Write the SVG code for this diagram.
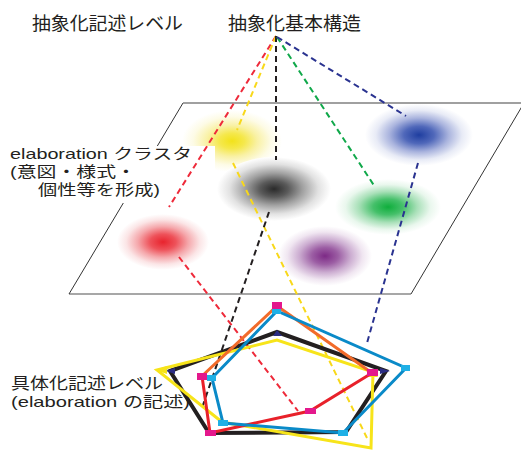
<svg xmlns="http://www.w3.org/2000/svg" width="521" height="450" viewBox="0 0 521 450">
<style>
.t{font-family:"Noto Sans CJK JP","Liberation Sans",sans-serif;fill:#231f20}
.m{font-family:"Liberation Sans","Noto Sans CJK JP",sans-serif;fill:#231f20}
.d{fill:none;stroke-width:2;stroke-dasharray:6 4}
.pl{fill:none;stroke-linejoin:miter}
.sq{fill:#e4188c}
.cx{fill:#1fb0e6}
.nv{fill:#2b2d84}
.yl{fill:#f7e41a}
</style>
<defs>
<radialGradient id="gY"><stop offset="0" stop-color="#f2e21a"/><stop offset="0.25" stop-color="#f5e84c"/><stop offset="0.5" stop-color="#f9f1a4"/><stop offset="0.78" stop-color="#fdfbe6"/><stop offset="1" stop-color="#fff"/></radialGradient>
<radialGradient id="gK"><stop offset="0" stop-color="#2a2a2a"/><stop offset="0.25" stop-color="#5a5a5a"/><stop offset="0.5" stop-color="#a0a0a0"/><stop offset="0.78" stop-color="#e2e2e2"/><stop offset="1" stop-color="#fff"/></radialGradient>
<radialGradient id="gR"><stop offset="0" stop-color="#e8232d"/><stop offset="0.28" stop-color="#ee525a"/><stop offset="0.55" stop-color="#f5a8ac"/><stop offset="0.8" stop-color="#fbe5e6"/><stop offset="1" stop-color="#fff"/></radialGradient>
<radialGradient id="gG"><stop offset="0" stop-color="#0fae3c"/><stop offset="0.28" stop-color="#45c06a"/><stop offset="0.55" stop-color="#a8e0b8"/><stop offset="0.8" stop-color="#e9f7ed"/><stop offset="1" stop-color="#fff"/></radialGradient>
<radialGradient id="gB"><stop offset="0" stop-color="#1f3ea0"/><stop offset="0.28" stop-color="#5068ba"/><stop offset="0.55" stop-color="#aab4de"/><stop offset="0.8" stop-color="#e8ebf6"/><stop offset="1" stop-color="#fff"/></radialGradient>
<radialGradient id="gP"><stop offset="0" stop-color="#7d2a86"/><stop offset="0.28" stop-color="#9c5ea4"/><stop offset="0.55" stop-color="#ccadd1"/><stop offset="0.8" stop-color="#f0e6f1"/><stop offset="1" stop-color="#fff"/></radialGradient>
</defs>
<rect width="521" height="450" fill="#fff"/>

<g id="plane">
<line x1="183" y1="103" x2="521" y2="103" stroke="#9a9a9a" stroke-width="1.6"/>
<line x1="411" y1="294" x2="69" y2="294" stroke="#8a8a8a" stroke-width="1.6"/>
<line x1="183" y1="103" x2="69" y2="294" stroke="#333" stroke-width="1"/>
<line x1="524" y1="103" x2="411" y2="294" stroke="#333" stroke-width="1"/>
</g>

<g id="cluster-yellow"><ellipse cx="232" cy="141" rx="50" ry="31" fill="url(#gY)"/></g>
<g id="cluster-blue"><ellipse cx="419" cy="135" rx="54" ry="31" fill="url(#gB)"/></g>
<g id="cluster-gray"><ellipse cx="274" cy="189" rx="57" ry="32" fill="url(#gK)"/></g>
<g id="cluster-green"><ellipse cx="388" cy="207" rx="53" ry="28" fill="url(#gG)"/></g>
<g id="cluster-red"><ellipse cx="163" cy="242" rx="46" ry="28" fill="url(#gR)"/></g>
<g id="cluster-purple"><ellipse cx="325" cy="256" rx="47" ry="30" fill="url(#gP)"/></g>
<line x1="183" y1="103" x2="521" y2="103" stroke="#9a9a9a" stroke-width="1.6"/>

<g id="label-top-left"><text class="t" x="32" y="30" font-size="18" textLength="151" lengthAdjust="spacingAndGlyphs">抽象化記述レベル</text></g>
<g id="label-top"><text class="t" x="228" y="30" font-size="18" textLength="133" lengthAdjust="spacingAndGlyphs">抽象化基本構造</text></g>

<g id="label-cluster">
<rect x="5" y="146" width="210" height="25" fill="#fff"/>
<rect x="5" y="171" width="160" height="32" fill="#fff"/>
<text class="m" x="10" y="159" font-size="15" textLength="182" lengthAdjust="spacingAndGlyphs">elaboration クラスタ</text>
<text class="m" x="10" y="177" font-size="15" textLength="126" lengthAdjust="spacingAndGlyphs">(意図・様式・</text>
<text class="m" x="38" y="195" font-size="15" textLength="122" lengthAdjust="spacingAndGlyphs">個性等を形成)</text>
</g>

<g id="connectors">
<line class="d" x1="276" y1="36" x2="169" y2="207" stroke="#ee2a3a"/>
<line class="d" x1="179" y1="257" x2="298" y2="411" stroke="#ee2a3a"/>
<line class="d" x1="276" y1="36" x2="237" y2="130" stroke="#f8d81a"/>
<line class="d" x1="233" y1="163" x2="367" y2="438" stroke="#f8d81a"/>
<line class="d" x1="276" y1="36" x2="276" y2="160" stroke="#231f20"/>
<line class="d" x1="269" y1="212" x2="202" y2="408" stroke="#231f20"/>
<line class="d" x1="277" y1="37" x2="375" y2="187" stroke="#10a84a"/>
<line class="d" x1="277" y1="37" x2="406" y2="116" stroke="#2a3390"/>
<line class="d" x1="418" y1="163" x2="367" y2="343" stroke="#2a3390"/>
</g>

<g id="poly-black">
<polygon class="pl" points="170,371 277,332 386,371 346,432 209,433" stroke="#231f20" stroke-width="4"/>
<polygon class="nv" points="166,371 175,368 175,374"/>
<polygon class="nv" points="277,330 273,336 282,336"/>
<polygon class="nv" points="390,371 380,368 380,374"/>
</g>

<g id="poly-yellow">
<polygon class="pl" points="157,370 277,340 373,372 371,448 222,422" stroke="#f7e41a" stroke-width="3"/>
<polygon class="yl" points="155,370 167,366 167,374"/>
<polygon class="yl" points="373,370 368,377 378,377"/>
</g>

<g id="poly-red">
<polyline class="pl" points="202,376 277,306 372,373" stroke="#f26b2a" stroke-width="3"/>
<polyline class="pl" points="372,373 310,411 210,433 202,376" stroke="#e8212a" stroke-width="3"/>
</g>

<g id="poly-blue">
<polygon class="pl" points="212,378 277,311 406,368 343,433 223,423" stroke="#0a8ac8" stroke-width="3"/>
<rect class="cx" x="207" y="375" width="9" height="6"/>
<rect class="cx" x="272" y="308" width="9" height="6"/>
<rect class="cx" x="401" y="365" width="9" height="6"/>
<rect class="cx" x="338" y="430" width="10" height="6"/>
<rect class="cx" x="218" y="420" width="10" height="6"/>
</g>

<g id="markers-red">
<rect class="sq" x="197" y="373" width="10" height="7"/>
<rect class="sq" x="272" y="302" width="10" height="7"/>
<rect class="sq" x="367" y="369" width="11" height="7"/>
<rect class="sq" x="305" y="408" width="11" height="6"/>
<rect class="sq" x="205" y="430" width="11" height="6"/>
</g>

<g id="label-bottom">
<text class="m" x="11" y="389" font-size="16" textLength="152" lengthAdjust="spacingAndGlyphs">具体化記述レベル</text>
<text class="m" x="11" y="407" font-size="15" textLength="179" lengthAdjust="spacingAndGlyphs">(elaboration の記述)</text>
</g>
</svg>
